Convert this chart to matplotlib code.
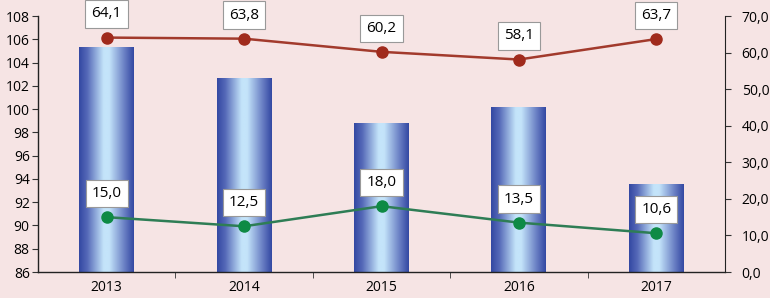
import numpy as np
import matplotlib.pyplot as plt
from matplotlib.colors import LinearSegmentedColormap

# data
years = ["2013", "2014", "2015", "2016", "2017"]
bar_values = [105.3, 102.7, 98.8, 100.2, 93.6]
red_values = [64.1, 63.8, 60.2, 58.1, 63.7]
green_values = [15.0, 12.5, 18.0, 13.5, 10.6]

bg = "#F6E4E4"
plt.rcParams['font.family'] = ['Open Sans', 'DejaVu Sans']

fig = plt.figure(figsize=(7.7, 2.98), dpi=100, facecolor=bg)
ax = fig.add_axes([38 / 770, 26 / 298, 687 / 770, 256 / 298])
ax.set_facecolor(bg)

x = np.arange(len(years))
bars = ax.bar(x, bar_values, width=0.4, bottom=0, color="none", edgecolor="none")

# cylinder-like horizontal gradient
cmap = LinearSegmentedColormap.from_list(
    "cyl", [(0, "#3348A2"), (0.15, "#5569B8"), (0.45, "#C4E4FA"), (0.55, "#C4E4FA"),
            (0.85, "#6378C0"), (1, "#3348A2")])
grad = np.linspace(0, 1, 256).reshape(1, -1)
for b in bars:
    x0 = b.get_x()
    x1 = x0 + b.get_width()
    im = ax.imshow(grad, cmap=cmap, aspect="auto", extent=(x0, x1, 86, b.get_height()),
                   zorder=2)
    im.set_clip_path(b)
ax.set_ylim(86, 108)
ax.set_xlim(-0.5, len(years) - 0.5)

ax.set_yticks(np.arange(86, 109, 2))
ax.set_xticks(x)
ax.set_xticklabels(years)
ax.set_xticks(np.arange(0.5, len(years) - 1, 1), minor=True)
ax.tick_params(axis="x", which="major", length=0, labelsize=10, pad=6)
ax.tick_params(axis="x", which="minor", length=4, direction="out", color="#333333")
ax.tick_params(axis="y", length=4, direction="out", labelsize=10, color="#333333", pad=2)
ax.spines["top"].set_visible(False)
ax.spines["right"].set_visible(False)
for s in ["left", "bottom"]:
    ax.spines[s].set_color("#222222")
    ax.spines[s].set_linewidth(1)

ax2 = ax.twinx()
ax2.set_ylim(0, 70)
ax2.set_yticks(np.arange(0, 71, 10))
ax2.set_yticklabels([f"{v:.1f}".replace(".", ",") for v in np.arange(0, 71, 10)])
ax2.tick_params(axis="y", length=4, direction="out", labelsize=10, color="#333333", pad=8)
ax2.spines["top"].set_visible(False)
ax2.spines["left"].set_visible(False)
ax2.spines["bottom"].set_visible(False)
ax2.spines["right"].set_color("#222222")

ax2.plot(x, red_values, color="#A23A2C", lw=1.8, marker="o", ms=8,
         mfc="#A02A1C", mec="#A02A1C", zorder=3)
ax2.plot(x, green_values, color="#2E7D55", lw=1.8, marker="o", ms=8,
         mfc="#0E8A45", mec="#0E8A45", zorder=3)

for series in (red_values, green_values):
    for xi, v in zip(x, series):
        ax2.annotate(f"{v:.1f}".replace(".", ","), (xi, v), xytext=(0, 17),
                     textcoords="offset points", ha="center", va="center", fontsize=11,
                     bbox=dict(boxstyle="square,pad=0.4", fc="white", ec="#999999", lw=0.8))

fig.savefig("out.png", dpi=100, facecolor=bg)
